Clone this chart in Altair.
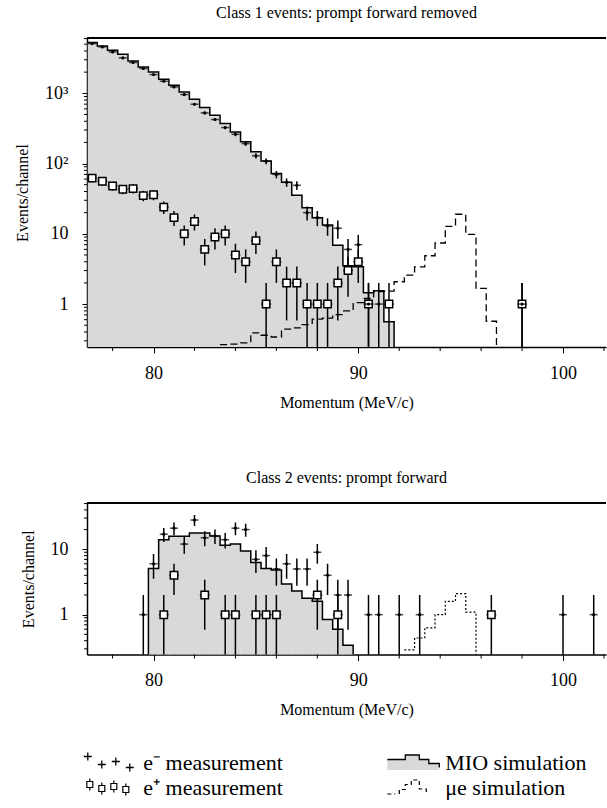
import math
import altair as alt
import pandas as pd

FONT = "Liberation Serif"
GRAY = "#d9d9d9"
FS_TITLE = 16
FS_LABEL = 18
FS_LEGEND = 22

# ---------------- Class 1 events: prompt forward removed ----------------
c1_mio_bins = [77.0, 77.5, 78.0, 78.5, 79.0, 79.5, 80.0, 80.5, 81.0, 81.5,
               82.0, 82.5, 83.0, 83.5, 84.0, 84.5, 85.0, 85.5, 86.0, 86.5,
               87.0, 87.5, 88.0, 88.5, 89.0, 89.5, 90.0, 90.5, 91.0, 91.5]
c1_mio_vals = [5260, 4720, 4090, 3590, 2890, 2370, 2010, 1580, 1300, 1046,
               822, 627, 487, 371, 282, 204, 147, 109, 72, 54,
               35.4, 23.4, 16.9, 13.3, 6.9, 3.5, 3.4, 1.45, 1.55, 0.56]

c1_mue_bins = [83.5, 84.0, 84.5, 85.0, 85.5, 86.0, 86.5, 87.0, 87.5, 88.0,
               88.5, 89.0, 89.5, 90.0, 90.5, 91.0, 91.5, 92.0, 92.5, 93.0,
               93.5, 94.0, 94.5, 95.0, 95.5, 96.0, 96.5]
c1_mue_vals = [0.265, 0.27, 0.28, 0.39, 0.36, 0.34, 0.44, 0.46, 0.51, 0.61,
               0.63, 0.71, 0.80, 1.05, 1.2, 1.5, 1.53, 2.08, 2.58, 3.39,
               4.87, 7.4, 12.8, 19.0, 9.8, 1.67, 0.57]

c1_em_bins = [77.0, 77.5, 78.0, 78.5, 79.0, 79.5, 80.0, 80.5, 81.0, 81.5,
              82.0, 82.5, 83.0, 83.5, 84.0, 84.5, 85.0, 85.5, 86.0, 86.5,
              87.0, 87.5, 88.0, 88.5, 89.0, 89.5, 90.0, 90.5, 91.0, 98.0]
c1_em_vals = [5090, 4570, 3880, 3190, 2740, 2250, 1845, 1483, 1233, 959,
              699, 526, 423, 325, 261, 192, 129, 108, 70, 54,
              49, 20, 17, 13, 12, 6, 7, 1, 1, 1]

c1_ep_bins = [77.0, 77.5, 78.0, 78.5, 79.0, 79.5, 80.0, 80.5, 81.0, 81.5,
              82.0, 82.5, 83.0, 83.5, 84.0, 84.5, 85.0, 85.5, 86.0, 86.5,
              87.0, 87.5, 88.0, 88.5, 89.0, 89.5, 90.0, 90.5, 91.5, 98.0]
c1_ep_vals = [62, 56, 48, 43, 44, 35, 36, 24, 17, 10,
              15, 6, 9, 10, 5, 4, 8, 1, 4, 2,
              2, 1, 1, 1, 2, 3, 4, 1, 1, 1]

# ---------------- Class 2 events: prompt forward ----------------
c2_mio_bins = [80.0, 80.5, 81.0, 81.5, 82.0, 82.5, 83.0, 83.5, 84.0, 84.5,
               85.0, 85.5, 86.0, 86.5, 87.0, 87.5, 88.0, 88.5, 89.0, 89.5]
c2_mio_vals = [5.1, 14.0, 15.8, 15.8, 17.7, 17.7, 16.0, 11.5, 12.0, 9.4,
               6.3, 5.1, 4.8, 2.95, 2.3, 1.78, 1.6, 0.84, 0.6, 0.34]

c2_mue_bins = [92.5, 93.0, 93.5, 94.0, 94.5, 95.0, 95.5]
c2_mue_vals = [0.29, 0.44, 0.63, 1.0, 1.6, 2.1, 1.09]

c2_em_bins = [79.5, 80.0, 80.5, 81.0, 81.5, 82.0, 82.5, 83.0, 83.5, 84.0,
              84.5, 85.0, 85.5, 86.0, 86.5, 87.0, 87.5, 88.0, 88.5, 89.0,
              89.5, 90.5, 91.0, 92.0, 93.0, 100.0, 101.5]
c2_em_vals = [1, 6, 17, 21, 12, 28, 15, 16, 14, 21,
              20, 7, 8, 5, 6, 5, 5, 9, 4, 2,
              2, 1, 1, 1, 1, 1, 1]

c2_ep_bins = [80.5, 81.0, 82.5, 83.5, 84.0, 85.0, 85.5, 86.0, 88.0, 89.0, 96.5]
c2_ep_vals = [1, 4, 2, 1, 1, 1, 1, 1, 2, 1, 1]

x_major = [80, 90, 100]
x_minor = [78, 82, 84, 86, 88, 92, 94, 96, 98, 102]
c1_y_major = [1, 10, 100, 1000]
c1_y_minor = [0.3, 0.4, 0.5, 0.6, 0.7, 0.8, 0.9, 2, 3, 4, 5, 6, 7, 8, 9,
              20, 30, 40, 50, 60, 70, 80, 90, 200, 300, 400, 500,
              600, 700, 800, 900, 2000, 3000, 4000, 5000, 6000]
c2_y_major = [1, 10]
c2_y_minor = [0.3, 0.4, 0.5, 0.6, 0.7, 0.8, 0.9, 2, 3, 4, 5, 6, 7, 8, 9,
              20, 30, 40, 50]

legend_labels = ["e\u207b measurement", "MIO simulation",
                 "e\u207a measurement", "\u03bce simulation"]
legend_col = [0, 1, 0, 1]
legend_row = [0, 0, 1, 1]

W = 519
X_DOMAIN = [76.75, 102.1]
FLOOR = 0.01
HALF = 0.25  # half bin width (MeV)


def hist_df(bins, vals, base, drop_start=True, drop_end=True):
    rows = []
    left = [b - HALF for b in bins]
    if drop_start:
        rows.append((left[0], base))
    rows += list(zip(left, vals))
    rows.append((bins[-1] + HALF, vals[-1]))
    if drop_end:
        rows.append((bins[-1] + HALF, base))
    df = pd.DataFrame(rows, columns=["x", "y"])
    df["i"] = range(len(df))
    return df


def bars_df(bins, vals, base):
    return pd.DataFrame({"x": [b - HALF for b in bins], "x2": [b + HALF for b in bins],
                         "y": vals, "base": [base] * len(bins)})


def pts_df(bins, vals):
    df = pd.DataFrame({"x": bins, "y": vals})
    df["lo"] = [max(v - math.sqrt(v), FLOOR) for v in vals]
    df["hi"] = [v + math.sqrt(v) for v in vals]
    return df


def panel(mio_b, mio_v, mue_b, mue_v, em_b, em_v, ep_b, ep_v,
          ydom, ymaj, ymin, height, title, dash, dash_w):
    xs = alt.Scale(domain=X_DOMAIN, nice=False, zero=False)
    ys = alt.Scale(type="log", domain=ydom, nice=False)
    xaxis = alt.Axis(values=x_major, tickSize=6, title="Momentum (MeV/c)", grid=False,
                     labelPadding=11, titlePadding=12, labelFlush=False, labelOverlap=False)
    yaxis = alt.Axis(
        values=ymaj,
        labelExpr="datum.value == 100 ? '10\u00b2' : datum.value == 1000 ? '10\u00b3' : datum.value == 10 ? '10' : '1'",
        tickSize=5, title="Events/channel", grid=False, labelPadding=14, titlePadding=14,
        labelFlush=False, labelOverlap=False)

    def X(f="x"):
        return alt.X(f"{f}:Q", scale=xs, axis=xaxis)

    def Y(f):
        return alt.Y(f"{f}:Q", scale=ys, axis=yaxis, stack=None)

    fill = bars_df(mio_b, mio_v, FLOOR)
    mio = hist_df(mio_b, mio_v, FLOOR)
    mue = hist_df(mue_b, mue_v, FLOOR, drop_start=False)
    em = pts_df(em_b, em_v)
    ep = pts_df(ep_b, ep_v)
    xm = pd.DataFrame({"t": x_minor})
    ym = pd.DataFrame({"t": ymin})

    area = alt.Chart(fill).mark_bar(color=GRAY, stroke=GRAY, strokeWidth=0.6, clip=True,
                                    opacity=1).encode(
        x=X(), x2="x2:Q", y=Y("y"), y2="base:Q")
    line = alt.Chart(mio).mark_line(interpolate="step-after", color="black",
                                    strokeWidth=1.5, clip=True).encode(
        x=X(), y=Y("y"), order="i:Q")
    mline = alt.Chart(mue).mark_line(interpolate="step-after", color="black",
                                     strokeWidth=dash_w, strokeDash=dash, clip=True).encode(
        x=X(), y=Y("y"), order="i:Q")
    ep_err = alt.Chart(ep).mark_rule(color="black", strokeWidth=1.5, clip=True).encode(
        x=X(), y=Y("lo"), y2="hi:Q")
    em_err = alt.Chart(em).mark_rule(color="black", strokeWidth=1.5, clip=True).encode(
        x=X(), y=Y("lo"), y2="hi:Q")
    ep_h = alt.Chart(ep).mark_point(shape="M-1,0H1", size=100, stroke="black",
                                    strokeWidth=1.5, clip=True).encode(x=X(), y=Y("y"))
    ep_sq = alt.Chart(ep).mark_point(shape="square", size=55, filled=True, fill="white",
                                     stroke="black", strokeWidth=1.5, opacity=1,
                                     clip=True).encode(x=X(), y=Y("y"))
    em_h = alt.Chart(em).mark_point(shape="M-1,0H1", size=64, stroke="black",
                                    strokeWidth=1.5, clip=True).encode(x=X(), y=Y("y"))
    em_dot = alt.Chart(em).mark_point(shape="circle", size=10, filled=True, color="black",
                                      opacity=1, clip=True).encode(x=X(), y=Y("y"))
    top_rule = alt.Chart(mio).mark_rule(color="black", strokeWidth=1.5).encode(
        x=alt.value(0), x2=alt.value(W), y=alt.value(0))
    xminor = alt.Chart(xm).mark_rule(color="black", strokeWidth=1).encode(
        x=alt.X("t:Q", scale=xs, axis=xaxis), y=alt.value(height), y2=alt.value(height + 4))
    yminor = alt.Chart(ym).mark_rule(color="black", strokeWidth=1).encode(
        y=alt.Y("t:Q", scale=ys, axis=yaxis), x=alt.value(0), x2=alt.value(-3))

    return alt.layer(area, line, mline, ep_err, em_err, ep_h, ep_sq, em_h, em_dot,
                     top_rule, xminor, yminor).properties(
        width=W, height=height,
        title=alt.TitleParams(title, font=FONT, fontSize=FS_TITLE, fontWeight="normal",
                              color="black", offset=16, anchor="middle"))


top = panel(c1_mio_bins, c1_mio_vals, c1_mue_bins, c1_mue_vals,
            c1_em_bins, c1_em_vals, c1_ep_bins, c1_ep_vals,
            [0.245, 6120], c1_y_major, c1_y_minor, 309,
            "Class 1 events: prompt forward removed", [7, 4], 1.3)
bottom = panel(c2_mio_bins, c2_mio_vals, c2_mue_bins, c2_mue_vals,
               c2_em_bins, c2_em_vals, c2_ep_bins, c2_ep_vals,
               [0.246, 51], c2_y_major, c2_y_minor, 151.5,
               "Class 2 events: prompt forward", [2, 2], 1.2)

# ---------------- legend ----------------
leg = pd.DataFrame({"label": legend_labels, "col": legend_col, "row": legend_row})
LX = alt.X("col:Q", scale=alt.Scale(domain=[-0.0716, 1.6328], nice=False, zero=False), axis=None)
LY = alt.Y("row:Q", scale=alt.Scale(domain=[-0.5, 1.5], nice=False, zero=False, reverse=True), axis=None)


def crosses(pts, arm):
    return " ".join(f"M{x - arm:.3f},{y:.3f}H{x + arm:.3f}M{x:.3f},{y - arm:.3f}V{y + arm:.3f}"
                    for x, y in pts)


R = 25.0
em_path = crosses([(-21 / R, -6 / R), (-7 / R, 2 / R), (7 / R, -1 / R), (21 / R, 5 / R)], 4 / R)


def squares(pts, s, e):
    out = []
    for x, y in pts:
        out.append(f"M{x:.3f},{y - s - e:.3f}V{y - s:.3f}M{x:.3f},{y + s:.3f}V{y + s + e:.3f}")
        out.append(f"M{x - s:.3f},{y - s:.3f}H{x + s:.3f}V{y + s:.3f}H{x - s:.3f}Z")
    return " ".join(out)


ep_path = squares([(-19 / R, -3 / R), (-7 / R, 1 / R), (5 / R, -1 / R), (17 / R, 2 / R)],
                  3 / R, 3 / R)
mio_outline = "M-1.04,-0.12H-0.32V-0.3H0.24V-0.12H0.62V0.04H1.04V0.2"
mio_fill = "M-1.04,-0.12H-0.32V-0.3H0.24V-0.12H0.62V0.04H1.04V0.3H-1.04Z"
mue_path = "M-1.04,0.26H-0.72M-0.56,0.26V0.08H-0.32V-0.12H-0.08V-0.3H0.24V0.06H0.52V0.28"


def lsym(label, **kw):
    return alt.Chart(leg).transform_filter(alt.datum.label == label).mark_point(
        size=R * R * 4, **kw).encode(x=LX, y=LY)


def ltext(col, dx):
    return alt.Chart(leg).transform_filter(alt.datum.col == col).mark_text(
        align="left", baseline="middle", dx=dx, font=FONT, fontSize=FS_LEGEND,
        color="black").encode(x=LX, y=LY, text="label:N")


leg_chart = alt.layer(
    lsym(legend_labels[0], shape=em_path, stroke="black", strokeWidth=1.3, filled=False, opacity=1),
    lsym(legend_labels[2], shape=ep_path, stroke="black", strokeWidth=1.2, filled=True,
         fill="white", opacity=1),
    lsym(legend_labels[1], shape=mio_fill, filled=True, fill=GRAY, strokeWidth=0, opacity=1),
    lsym(legend_labels[1], shape=mio_outline, stroke="black", strokeWidth=1.3, filled=False, opacity=1),
    lsym(legend_labels[3], shape=mue_path, stroke="black", strokeWidth=1.2, filled=False,
         strokeDash=[4, 3], opacity=1),
    ltext(0, 34.5),
    ltext(1, 32),
).properties(width=W, height=50)

panels = alt.vconcat(top, bottom, spacing=60)
chart = alt.vconcat(panels, leg_chart, spacing=31).configure_view(stroke=None).configure_axis(
    labelFont=FONT, titleFont=FONT, labelFontSize=FS_LABEL, titleFontSize=FS_TITLE,
    labelColor="black", titleColor="black", titleFontWeight="normal",
    domainColor="black", tickColor="black", domainWidth=1.5, tickWidth=1
).properties(padding={"left": 14, "top": 5, "right": 0, "bottom": 0})

chart.save("out.html", embed_options={"renderer": "svg", "actions": False})
